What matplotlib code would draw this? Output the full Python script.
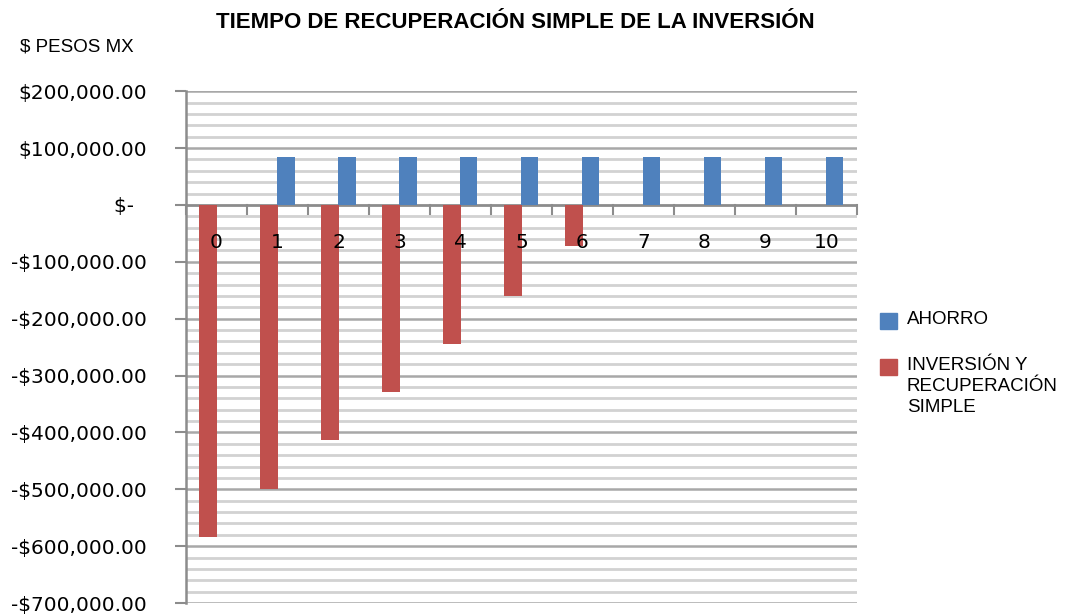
import matplotlib
matplotlib.use("Agg")
import matplotlib.pyplot as plt
import numpy as np
from matplotlib.patches import Rectangle
from matplotlib.ticker import MultipleLocator, FuncFormatter

years = [0, 1, 2, 3, 4, 5, 6, 7, 8, 9, 10]
ahorro = [0, 85000, 85000, 85000, 85000, 85000, 85000, 85000, 85000, 85000, 85000]
inversion = [-583000, -499000, -413000, -329000, -244000, -160000, -73000, 0, 0, 0, 0]
series_names = ["AHORRO", "INVERSIÓN Y\nRECUPERACIÓN\nSIMPLE"]
blue = "#4F81BD"
red = "#C0504D"


def money(v, pos):
    if abs(v) < 1:
        return "$-  "
    s = "${:,.2f}".format(abs(v))
    return "-" + s if v < 0 else s


W, H = 1070, 616
fig = plt.figure(figsize=(W / 100, H / 100), dpi=100)
ax = fig.add_axes([0.1738, 0.021, 0.627, 0.831])

x = np.arange(len(years))
w = 0.29
ax.bar(x + 0.135, ahorro, w, color=blue, zorder=3)
ax.bar(x - 0.135, inversion, w, color=red, zorder=3)

ax.set_xlim(-0.5, len(years) - 0.5)
ax.set_ylim(-700000, 200000)
ax.yaxis.set_major_locator(MultipleLocator(100000))
ax.yaxis.set_minor_locator(MultipleLocator(20000))
ax.yaxis.set_major_formatter(FuncFormatter(money))
ax.grid(axis="y", which="minor", color="#d2d2d2", linewidth=2, zorder=0)
ax.grid(axis="y", which="major", color="#a8a8a8", linewidth=1.8, zorder=0)
ax.tick_params(axis="y", which="major", length=8, width=1.5, color="#8c8c8c",
               labelsize=14.5, pad=20)
ax.tick_params(axis="y", which="minor", length=0)
for lbl in ax.get_yticklabels():
    lbl.set_family("DejaVu Sans")

# category axis sits at zero
ax.set_xticks([])
ax.axhline(0, color="#8c8c8c", linewidth=1.8, zorder=2)
for b in np.arange(-0.5, len(years), 1.0):
    ax.plot([b, b], [0, -16000], color="#8c8c8c", linewidth=1.5, zorder=2,
            clip_on=False)
for xi, yr in zip(x, years):
    ax.text(xi, -66000, str(yr), ha="center", va="center", fontsize=14.5,
            family="DejaVu Sans", zorder=4)

for s in ["top", "right", "bottom"]:
    ax.spines[s].set_visible(False)
ax.spines["left"].set_color("#8c8c8c")
ax.spines["left"].set_linewidth(1.8)

fig.text(515 / W, 1 - 22 / H, "TIEMPO DE RECUPERACIÓN SIMPLE DE LA INVERSIÓN",
         ha="center", va="center", fontsize=16, fontweight="bold",
         family="Liberation Sans")
fig.text(20 / W, 1 - 47 / H, "$ PESOS MX", ha="left", va="center", fontsize=13.5,
         family="Liberation Sans")

# legend
for (yc, col, name) in [(321, blue, series_names[0]), (367, red, series_names[1])]:
    fig.patches.append(Rectangle((880 / W, 1 - (yc + 8) / H), 17 / W, 16 / H,
                                 color=col, transform=fig.transFigure))
    fig.text(907 / W, 1 - (yc - 10) / H, name, ha="left", va="top",
             fontsize=13.5, family="Liberation Sans", linespacing=1.3)

fig.savefig("out.png", dpi=100)
